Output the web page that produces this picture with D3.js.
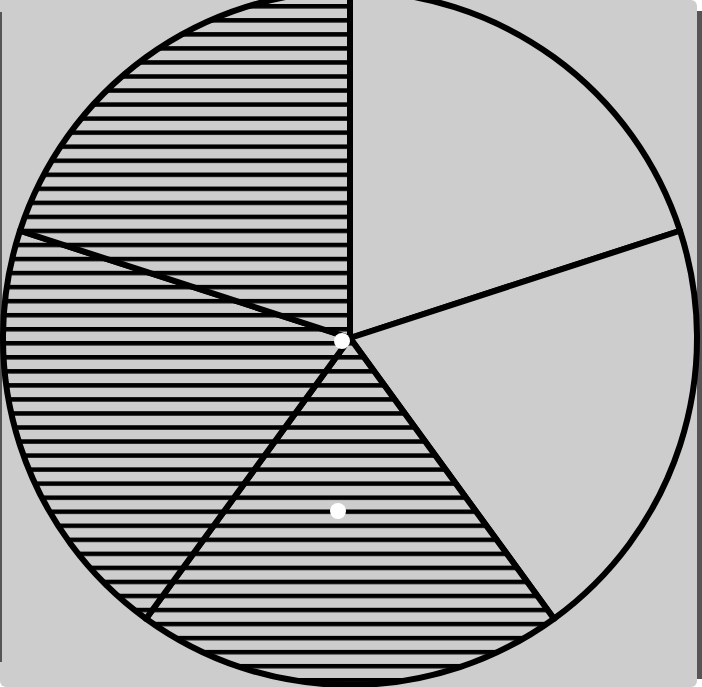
<!DOCTYPE html>
<html>
<head>
<meta charset="utf-8">
<script src="https://cdn.jsdelivr.net/npm/d3@7"></script>
<style>
html,body{margin:0;padding:0;background:#fff;}
svg{display:block;}
</style>
</head>
<body>
<svg id="chart" width="702" height="687"></svg>
<script>
const categories = ["A", "B", "C", "D", "E"];
const values = [1, 1, 1, 1, 1];
const hatched = [false, false, true, true, true];

const W = 702, H = 687;
const cx = 350, cy = 338, R = 347;
const svg = d3.select("#chart");

// frame / background
svg.append("rect").attr("x", 0).attr("y", 0).attr("width", W).attr("height", H).attr("fill", "#fff");
svg.append("rect").attr("x", 0).attr("y", 0).attr("width", 697).attr("height", H).attr("rx", 6).attr("fill", "#cdcdcd");
svg.append("rect").attr("x", 0).attr("y", 0).attr("width", 12).attr("height", 12).attr("fill", "#cdcdcd");
svg.append("rect").attr("x", 697).attr("y", 11).attr("width", 5).attr("height", 668).attr("fill", "#555");
svg.append("rect").attr("x", 0).attr("y", 12).attr("width", 2).attr("height", 650).attr("fill", "#555");

const defs = svg.append("defs");
const pat = defs.append("pattern").attr("id", "hatch")
  .attr("patternUnits", "userSpaceOnUse")
  .attr("x", 0).attr("y", 3).attr("width", 20).attr("height", 14.04);
pat.append("rect").attr("width", 20).attr("height", 14.04).attr("fill", "#cdcdcd");
pat.append("rect").attr("y", 0).attr("width", 20).attr("height", 4.5).attr("fill", "#000");

const pie = d3.pie().sort(null).value(d => d)(values);
const arc = d3.arc().innerRadius(0).outerRadius(R);

const g = svg.append("g").attr("transform", `translate(${cx},${cy})`);
g.selectAll("path.slice").data(pie).join("path")
  .attr("class", "slice")
  .attr("d", arc)
  .attr("fill", (d, i) => hatched[i] ? "url(#hatch)" : "#cdcdcd")
  .attr("stroke", "#000")
  .attr("stroke-width", 6)
  .attr("stroke-linejoin", "round");

const dotPos = [[342, 341], [338, 511]];
svg.selectAll("circle.dot").data(dotPos).join("circle")
  .attr("class", "dot")
  .attr("cx", d => d[0])
  .attr("cy", d => d[1])
  .attr("r", 8)
  .attr("fill", "#fff");
</script>
</body>
</html>
